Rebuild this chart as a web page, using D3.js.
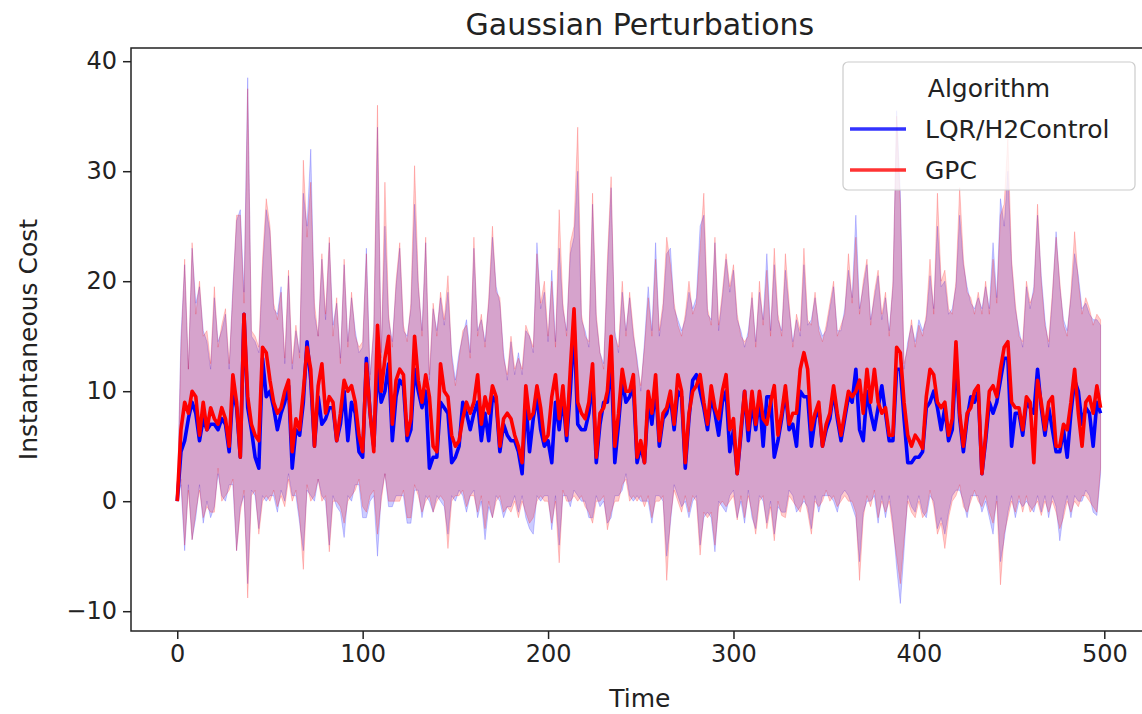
<!DOCTYPE html>
<html>
<head>
<meta charset="utf-8">
<script src="https://cdn.jsdelivr.net/npm/d3@7"></script>
<style>
  html, body { margin: 0; padding: 0; background: #fff; }
  svg { display: block; font-family: "DejaVu Sans", sans-serif; }
</style>
</head>
<body>
<svg id="chart" width="1142" height="714"></svg>
<script>
// ---- data (one value every 2 time steps) ----
const timeSteps = d3.range(0, 500, 2);

const gpcMean = [
  0, 6.5, 9, 8, 10, 9.5, 6, 9, 6.5, 8.5,
  7.5, 7, 8.5, 7.5, 5, 11.5, 9, 4, 17, 9.5,
  7, 6, 5.5, 14, 13.5, 11, 9, 8, 8.5, 10,
  11, 4.5, 7.5, 6.5, 10, 14, 12, 5, 10.5, 12.5,
  8, 9.5, 9, 5.5, 8, 11, 10, 10.5, 9, 6,
  4.5, 12.5, 8, 4.5, 16, 10, 13, 15, 7, 11,
  12, 11.5, 6, 7.5, 15, 11, 9, 11.5, 9.5, 5,
  4.5, 12.5, 10, 9.5, 6, 5, 5.5, 7.5, 9, 8,
  9, 11.5, 7, 9.5, 8, 10.5, 9.5, 5, 7.5, 8,
  7.5, 6, 5, 3.5, 10.5, 7.5, 8, 10.5, 8.5, 5.5,
  6, 9.5, 11.5, 7.5, 10.5, 6, 12, 17.5, 9, 8,
  7.5, 9, 12.5, 4, 8, 8.5, 10, 15, 5, 8,
  12, 10, 10, 11.5, 4, 5.5, 3.5, 10, 8, 11.5,
  5.5, 8, 8.5, 10, 7, 11.5, 10, 3.5, 8, 10,
  10.5, 11.5, 9, 7, 10.5, 8.5, 7.5, 10, 11.5, 6.5,
  7.5, 2.5, 6.5, 10, 6.5, 10, 7, 10, 7.5, 7,
  9, 10.5, 6, 8, 10.5, 7, 8, 8, 12, 13.5,
  12, 6.5, 8, 9, 5, 7, 8, 10.5, 8, 6,
  8, 10, 9.5, 10, 11, 8, 12, 9, 12, 9,
  8, 8.5, 6, 6, 14, 13.5, 9, 6, 5, 6,
  5.5, 4.8, 9.5, 12, 11.5, 9, 8.5, 9, 6, 7.5,
  14.5, 8, 5, 8, 8.5, 10, 10.5, 2.5, 6, 10,
  10.5, 9.5, 12, 14, 14.5, 9, 8.5, 8.5, 6.5, 9.5,
  9, 3.5, 11, 9, 6.5, 9, 9.5, 5, 5, 7,
  6.5, 9, 12, 8, 5, 9, 9.5, 8, 10.5, 8.5
];

const lqrMean = [
  0, 4.5, 5.5, 7.5, 9, 8, 5.5, 7.5, 6.5, 7,
  7, 6.5, 7.5, 7, 4.5, 10, 8.5, 4, 17, 8.5,
  6.5, 4, 3, 13, 9.5, 10, 8.5, 6.5, 8, 9,
  10.5, 3, 6.5, 6, 9, 14.5, 11, 5, 9.5, 7,
  7.5, 8.5, 8.5, 5.5, 7, 10, 5.5, 9, 8, 4.5,
  4, 13, 8, 5, 12, 9, 10, 12.5, 5.5, 9.5,
  11, 10.5, 5.5, 6.5, 12, 10, 8.5, 10, 3, 4,
  4, 9, 8.5, 8, 3.5, 4, 5, 9, 8, 6.5,
  8, 9, 5.5, 8, 5.5, 9.5, 9, 4.5, 7, 6,
  5.5, 5.5, 4.5, 2.5, 9, 4.5, 7.5, 9.5, 6.5, 5,
  5.5, 3.5, 9, 6.5, 9.5, 5.5, 10, 16, 7, 6.5,
  6.5, 8, 11, 3.5, 7, 9, 9, 13, 3.5, 7,
  11, 9, 9.5, 10.5, 3.5, 5, 3.5, 9, 7, 10.5,
  5, 7.5, 8, 9.5, 6.5, 10, 9.5, 3, 7.5, 11,
  11.5, 10, 8.5, 6.5, 9.5, 8, 6, 9, 10, 4.5,
  6.5, 2.5, 6, 10, 5.5, 9, 6.5, 9.5, 5, 9.5,
  9.5, 4, 5.5, 7.5, 10, 6.5, 7, 5, 10, 9.5,
  9.5, 5, 7.5, 8.5, 5, 6.5, 7.5, 10, 7.5, 5.5,
  7.5, 9.5, 9, 12, 6.5, 5.5, 10, 8, 6.5, 8.5,
  10.5, 8, 5.5, 5.5, 12, 12, 7.5, 3.5, 3.5, 4,
  4, 4.5, 8.5, 9, 10, 8.5, 6.5, 8.5, 5.5, 6.5,
  13, 7.5, 4.5, 7.5, 9.5, 9, 10, 2.5, 5.5, 9,
  8, 9, 11, 13, 13, 5, 8, 8, 6, 9,
  8.5, 8, 12, 8.5, 6, 8.5, 6.5, 4.5, 4.5, 6.5,
  4, 8, 11, 10, 7, 8.5, 8, 5, 9, 8
];

const gpcUpper = [
  0, 14, 22, 12, 23.5, 17, 20, 15, 15.5, 12.5,
  19.5, 14, 16, 17.5, 12.5, 19, 26, 26, 18, 37.5,
  15.5, 15, 14, 22, 27.5, 25, 18, 16.5, 19, 13,
  21, 12.5, 16, 13, 31, 24, 29, 18, 15, 22.5,
  17, 24, 15, 18.5, 12.5, 22, 14, 19, 15, 14,
  14.5, 22.5, 11, 16, 36, 13, 29, 17, 14, 20,
  23.5, 16, 14.5, 18, 30.5, 20, 15, 24, 11.5, 18,
  15, 19, 16.5, 20.5, 13, 10.5, 13, 15.5, 16, 13,
  24, 15, 17, 14, 18.5, 25, 19, 18.5, 13, 11.5,
  15, 12, 13, 12, 16, 15, 14, 22.5, 18, 20,
  15, 20, 14, 26.5, 18, 15, 23.5, 25, 34, 17,
  15, 14.5, 28, 17, 13.5, 12, 22, 29.5, 15, 14,
  20, 15, 19, 15.5, 12.5, 10.5, 14, 18.5, 15, 22,
  15.5, 18, 24, 21.5, 18, 16, 15, 17, 20, 17,
  18, 23, 28, 17.5, 16, 24, 16, 19, 22.5, 19.5,
  21.5, 17, 15, 14.5, 15, 19, 14, 20, 16, 21,
  15, 23, 17, 15, 22.5, 18, 14, 17, 15.5, 23,
  16.5, 16, 19, 15.5, 14.5, 16, 18, 20, 15, 16,
  17, 22.5, 18, 24, 17, 20, 22, 16, 19, 21,
  17, 19, 15, 20, 35, 27, 12.5, 14, 16.5, 14,
  16, 15, 17, 22, 17, 28, 20, 21, 17.5, 17,
  20, 28.5, 22, 19, 18.5, 17, 19, 17, 20, 17,
  22, 18, 26, 27, 33, 22, 18, 15, 14.5, 20,
  18, 19, 27, 20, 16, 14.5, 19, 24, 20, 16,
  15, 19, 24.5, 20, 17, 18.5, 17.5, 16, 17, 16.5
];

const lqrUpper = [
  0, 15, 21.5, 12, 23, 18, 19.5, 15.5, 14.5, 12,
  18.5, 14.5, 15.5, 17, 12, 19.5, 25.5, 26.5, 19, 38.5,
  15, 14.5, 13.5, 21, 26.5, 24.5, 17.5, 17, 19.5, 12.5,
  20.5, 12, 15.5, 13.5, 28, 25, 32, 17, 15, 22,
  16.5, 23.5, 16, 18, 13, 21.5, 14.5, 18.5, 15.5, 13.5,
  14, 23, 11.5, 15.5, 34, 13.5, 25, 16.5, 14.5, 19.5,
  23, 15.5, 15, 17.5, 27, 19.5, 15.5, 23.5, 11, 17.5,
  15.5, 18.5, 16, 19, 13.5, 11, 13.5, 15, 16.5, 13.5,
  23, 15.5, 16.5, 14.5, 18, 24, 19.5, 18, 13.5, 11,
  14.5, 11.5, 13.5, 11.5, 15.5, 15, 13.5, 23.5, 17.5, 19,
  14.5, 21, 14.5, 23, 17.5, 15.5, 22.5, 24, 30, 16.5,
  15.5, 14, 27, 16.5, 13.5, 12.5, 21, 28.5, 15.5, 13.5,
  19, 15.5, 18.5, 15, 13, 10, 14.5, 19.5, 15.5, 23.5,
  15, 17.5, 22.5, 23, 17.5, 16.5, 15.5, 16.5, 19, 17.5,
  18.5, 25, 26, 17, 16.5, 23.5, 15.5, 18.5, 22, 19,
  21, 16.5, 15.5, 14, 15.5, 18.5, 14.5, 19, 16.5, 22.5,
  15.5, 21.5, 16.5, 15.5, 21, 17.5, 14.5, 16.5, 15, 21.5,
  16, 16.5, 18.5, 16, 15, 15.5, 17.5, 19.5, 15.5, 15.5,
  17.5, 21, 18.5, 26, 17.5, 19.5, 21.5, 16.5, 18.5, 20.5,
  16.5, 18.5, 15.5, 19.5, 35.5, 28, 12, 14.5, 16, 14.5,
  16.5, 15.5, 16.5, 20.5, 17.5, 25, 19.5, 20, 17, 17.5,
  19.5, 26, 21.5, 19.5, 18, 17.5, 18.5, 17.5, 19.5, 17.5,
  23.5, 18.5, 27.5, 25, 30, 21.5, 17.5, 15.5, 14, 19.5,
  17.5, 19.5, 26, 20.5, 16.5, 14, 18.5, 24.5, 19.5, 16.5,
  15.5, 18.5, 22.5, 20.5, 17.5, 18, 17, 16.5, 16.5, 16
];

const gpcLower = [
  0, 2, -4, 1, -3.5, -1, 1, -1.5, -0.5, -1,
  -1, 3, 0, 0.5, 1, 2, -4.5, -1, 1, -8.8,
  0.5, 1, -3, 0, 0.5, 0, 1, -0.5, 0.5, -0.5,
  2, 0, 1, -1.5, -6.2, 1.5, 0, 0.5, 2, 0,
  0.5, -4.6, 0, 0, -0.5, -2, 0, 0.5, 1, 2,
  -0.5, -1, 0.5, 1, -3, 0, 2.5, 0, 0, 0,
  0, 1, -1.5, -1.5, 1.5, 0.5, -1, 0, 0.5, -1,
  0, 0.5, 0, -4.3, 0, 0.5, 0.5, 1, -0.5, 0.5,
  0.5, -1, 0.5, -2.5, 0, -1.5, 0, 0.5, -1, -0.5,
  -1, 0, -1.5, 0, -1, -2, -1.5, 0, 0.5, 0,
  0, -2, 0, -5.6, 1, 0, 0, 0.5, 0, 0.5,
  -0.5, -1, -2, 0, 0, 0.5, -2.6, -1, 0, 0,
  1.5, 2, 0, 0.5, 0, 0.5, -0.5, 0.5, -1.5, 0,
  0, 0.5, -7.2, -1.5, 1, 0, -1, 0.5, -1, 0.5,
  0, -4.9, -1, -1.5, -1, -4, -0.5, 0, -0.5, 0,
  0.5, -1.7, 0.5, -1.5, 0.5, -1, -3, 0, 0.5, -2.5,
  -0.5, -3.6, 0, -1.3, -1.5, 0.5, 0, -0.5, -1, 0.5,
  -1, -3, 0, -0.5, 0, 1, 0, 0.5, -0.5, 0,
  0.5, 0, 0, -1, -7.2, -1.5, 0.5, -0.5, 1, -1.5,
  0, -1, 0, -2.6, -5, -7.5, -3.5, 0, -1, -1.5,
  0, -1.5, -1, 1, -0.5, -3, -2, -4.3, -1.5, 0,
  0.5, 1.5, -0.5, -1, 0, 1, 0, -0.5, 0.5, -1,
  -2, 0, -7.6, -3, -1.5, 0, -1, 0.5, -1, 0.5,
  -1, -0.5, 0, -1.3, 0, -1, 0, -1, -2.5, -1.5,
  0, -1, 0, -0.5, 0.5, 0.5, 0, -0.5, -1, 3
];

const lqrLower = [
  0, 1.5, -4.5, 1.5, -3.5, -1.5, 1.5, -2, 0, -1.5,
  -0.5, 2.5, 0.5, 0, 1.5, 1.5, -4.5, -0.5, 0.5, -7.5,
  1, 0.5, -2.5, 0.5, 0, 0.5, 0.5, -1, 1, 0,
  2.5, 0.5, 0.5, -2, -4.5, 1, 0.5, 0, 2, 0.5,
  0, -4, 0.5, -0.5, -1, -3.3, 0.5, 0, 1.5, 1.5,
  -1.5, -1.5, 0, 0.5, -5, 0.5, 2.5, -0.5, -0.5, 0.5,
  0.5, 0.5, -2, -2, 1, 1, -1.5, 0.5, 0, -1,
  0.5, 0, -0.5, -3, 0.5, 0, 1, 0.5, -1, 0.5,
  1, -1.5, 0, -3.5, -0.5, -1.5, 0.5, 0, -1.5, -0.5,
  -0.5, 0.5, -1, 0.5, -1.5, -2.5, -3, 0.5, 0, 0.5,
  0.5, -2.6, 0.5, -4, 0.5, 0.5, -0.5, 1, 0.5, 0,
  0, -1.5, -1.5, 0.5, -0.5, 0, -2, -1.5, 0.5, 0.5,
  1, 2.5, 0.5, 0, 0.5, 0, 0, 0, -2, 0.5,
  0.5, 0, -5, -2, 1.5, 0.5, -0.5, 0, -1.5, 0,
  0.5, -4, -1.5, -1, -1.5, -4.6, 0, -0.5, -1, 0.5,
  1, -1.5, 0, -2, 1, -1.5, -2.5, 0.5, 0, -2,
  0, -3, -0.5, -1, -1, 1, 0.5, -1, -0.5, 0,
  -0.5, -2.5, 0.5, -1, 0.5, 0.5, 0.5, 0, -1, 0.5,
  1, 0.5, -0.5, -1.5, -5.5, -1, 0, 0, 0.5, -2,
  0.5, -1.5, 0.5, -2, -6, -9.3, -4.5, 0.5, -0.5, -1,
  0.5, -1, -1.5, 0.5, 0, -2.5, -1.5, -3, -1, 0.5,
  1, 1, 0, -1.5, 0.5, 0.5, 0.5, -1, 0, -1.5,
  -3, 0.5, -5.5, -3.5, -1, 0.5, -1.5, 0, -0.5, 0,
  -0.5, -1, 0.5, -1, 0.5, -1.5, 0.5, -0.5, -3.6, -1,
  0.5, -1.5, 0.5, 0, 0, 1, 0.5, -1, -1.3, 2.5
];

const xTicks = [0, 100, 200, 300, 400, 500];
const yTicks = [-10, 0, 10, 20, 30, 40];
const seriesNames = ["LQR/H2Control", "GPC"];
const seriesColors = ["blue", "red"];
const chartTitle = "Gaussian Perturbations";
const xLabel = "Time";
const yLabel = "Instantaneous Cost";
const legendTitle = "Algorithm";

// ---- layout ----
const svg = d3.select("#chart");
const plot = { left: 131, top: 48, right: 1148.7, bottom: 631 };

const x = d3.scaleLinear().domain([-24.95, 523.95]).range([plot.left, plot.right]);
const y = d3.scaleLinear().domain([-11.8, 41.2]).range([plot.bottom, plot.top]);

svg.append("defs").append("clipPath").attr("id", "clip")
  .append("rect").attr("x", plot.left).attr("y", plot.top)
  .attr("width", plot.right - plot.left).attr("height", plot.bottom - plot.top);

const series = [
  { name: seriesNames[0], color: seriesColors[0], mean: lqrMean, lo: lqrLower, hi: lqrUpper },
  { name: seriesNames[1], color: seriesColors[1], mean: gpcMean, lo: gpcLower, hi: gpcUpper }
];

const g = svg.append("g").attr("clip-path", "url(#clip)");
const line = d3.line().x((d, i) => x(timeSteps[i])).y(d => y(d));

// bands first (matplotlib collections sit below lines)
series.forEach(s => {
  const area = d3.area()
    .x((d, i) => x(timeSteps[i]))
    .y0((d, i) => y(s.lo[i]))
    .y1((d, i) => y(s.hi[i]));
  g.append("path").datum(s.mean)
    .attr("d", area)
    .attr("fill", s.color)
    .attr("fill-opacity", 0.2)
    .attr("stroke", s.color)
    .attr("stroke-opacity", 0.2)
    .attr("stroke-width", 1);
});
series.forEach(s => {
  g.append("path").datum(s.mean)
    .attr("d", line)
    .attr("fill", "none")
    .attr("stroke", s.color)
    .attr("stroke-width", 3.6)
    .attr("stroke-linejoin", "round");
});

// ---- axes ----
const textColor = "#222";
const xAxis = svg.append("g")
  .attr("transform", `translate(0,${plot.bottom})`)
  .call(d3.axisBottom(x).tickValues(xTicks).tickSize(8).tickPadding(6).tickFormat(d3.format("d")));
const yAxis = svg.append("g")
  .attr("transform", `translate(${plot.left},0)`)
  .call(d3.axisLeft(y).tickValues(yTicks).tickSize(8).tickPadding(6)
    .tickFormat(d => d < 0 ? "\u2212" + Math.abs(d) : d));
[xAxis, yAxis].forEach(a => {
  a.select(".domain").remove();
  a.selectAll(".tick line").attr("stroke", textColor).attr("stroke-width", 1.5);
  a.selectAll(".tick text").attr("fill", textColor)
    .style("font-family", "DejaVu Sans").style("font-size", "24px");
});

// spines
svg.append("rect")
  .attr("x", plot.left).attr("y", plot.top)
  .attr("width", plot.right - plot.left).attr("height", plot.bottom - plot.top)
  .attr("fill", "none").attr("stroke", textColor).attr("stroke-width", 1.5);

// ---- labels ----
const cx = (plot.left + plot.right) / 2;
svg.append("text").attr("x", cx).attr("y", 35)
  .attr("text-anchor", "middle").attr("fill", textColor)
  .style("font-size", "30px").text(chartTitle);
svg.append("text").attr("x", cx).attr("y", 707)
  .attr("text-anchor", "middle").attr("fill", textColor)
  .style("font-size", "25px").text(xLabel);
svg.append("text")
  .attr("transform", `translate(37,${(plot.top + plot.bottom) / 2}) rotate(-90)`)
  .attr("text-anchor", "middle").attr("fill", textColor)
  .style("font-size", "25px").text(yLabel);

// ---- legend ----
const lg = svg.append("g");
lg.append("rect").attr("x", 843).attr("y", 62).attr("width", 292).attr("height", 128)
  .attr("rx", 5).attr("fill", "white").attr("fill-opacity", 0.8)
  .attr("stroke", "#cccccc").attr("stroke-width", 1.2);
lg.append("text").attr("x", 989).attr("y", 97).attr("text-anchor", "middle")
  .attr("fill", textColor).style("font-size", "25px").text(legendTitle);
series.forEach((s, i) => {
  const yy = 129 + i * 41;
  lg.append("line").attr("x1", 850).attr("x2", 906).attr("y1", yy).attr("y2", yy)
    .attr("stroke", s.color).attr("stroke-width", 3.6).attr("stroke-opacity", 0.8);
  lg.append("text").attr("x", 925).attr("y", yy + 9).attr("fill", textColor)
    .style("font-size", "25px").text(s.name);
});
</script>
</body>
</html>
